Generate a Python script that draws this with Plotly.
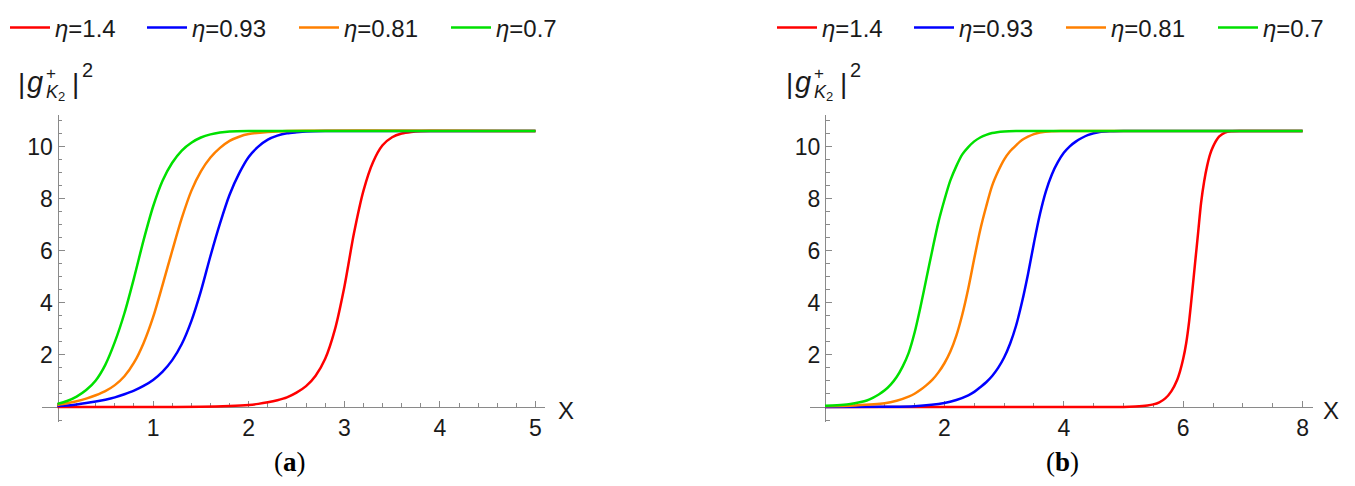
import plotly.graph_objects as go

W, H = 1355, 486

etas = ["1.4", "0.93", "0.81", "0.7"]
colors = ["#FF0000", "#0000FF", "#FF8000", "#00E000"]

# ---- panel (a): values ----
a_red_x = [0, 0.5, 1.0, 1.5, 1.8, 2.0, 2.1, 2.2, 2.3, 2.4, 2.5, 2.6, 2.7, 2.8, 2.9, 3.0, 3.1, 3.2, 3.3, 3.4, 3.5, 3.6, 3.7, 3.8, 3.9, 4.2, 5.0]
a_red_y = [0.0, 0.0, 0.0, 0.01, 0.04, 0.08, 0.12, 0.18, 0.26, 0.37, 0.55, 0.80, 1.20, 1.85, 2.95, 4.6, 6.65, 8.3, 9.4, 10.05, 10.36, 10.5, 10.56, 10.59, 10.6, 10.6, 10.6]
a_blue_x = [0, 0.1, 0.2, 0.3, 0.4, 0.5, 0.6, 0.7, 0.8, 0.9, 1.0, 1.1, 1.2, 1.3, 1.4, 1.5, 1.6, 1.7, 1.8, 1.9, 2.0, 2.1, 2.2, 2.3, 2.4, 2.5, 2.6, 2.8, 3.2, 5.0]
a_blue_y = [0.04, 0.06, 0.1, 0.15, 0.21, 0.28, 0.37, 0.49, 0.63, 0.81, 1.04, 1.36, 1.8, 2.42, 3.3, 4.45, 5.8, 7.05, 8.15, 8.97, 9.6, 10.0, 10.27, 10.42, 10.51, 10.55, 10.58, 10.6, 10.6, 10.6]
a_orange_x = [0, 0.1, 0.2, 0.3, 0.4, 0.5, 0.6, 0.7, 0.8, 0.9, 1.0, 1.1, 1.2, 1.3, 1.4, 1.5, 1.6, 1.7, 1.8, 1.9, 2.0, 2.2, 2.4, 5.0]
a_orange_y = [0.08, 0.14, 0.22, 0.32, 0.45, 0.61, 0.84, 1.18, 1.7, 2.45, 3.45, 4.7, 6.0, 7.25, 8.3, 9.05, 9.58, 9.95, 10.22, 10.38, 10.48, 10.56, 10.6, 10.6]
a_green_x = [0, 0.1, 0.2, 0.3, 0.4, 0.5, 0.6, 0.7, 0.8, 0.9, 1.0, 1.1, 1.2, 1.3, 1.4, 1.5, 1.6, 1.7, 1.8, 2.0, 5.0]
a_green_y = [0.12, 0.23, 0.4, 0.65, 1.02, 1.62, 2.5, 3.6, 4.95, 6.4, 7.7, 8.7, 9.38, 9.85, 10.15, 10.35, 10.47, 10.54, 10.58, 10.6, 10.6]

# ---- panel (b): values ----
b_red_x = [0, 2.0, 4.0, 5.0, 5.2, 5.4, 5.5, 5.6, 5.7, 5.8, 5.9, 5.95, 6.0, 6.05, 6.1, 6.15, 6.2, 6.25, 6.3, 6.35, 6.4, 6.45, 6.5, 6.6, 6.7, 6.8, 7.0, 8.0]
b_red_y = [0.0, 0.0, 0.0, 0.0, 0.02, 0.06, 0.1, 0.18, 0.33, 0.6, 1.05, 1.4, 1.85, 2.45, 3.3, 4.4, 5.55, 6.7, 7.85, 8.65, 9.25, 9.7, 10.0, 10.38, 10.54, 10.59, 10.6, 10.6]
b_blue_x = [0, 1.0, 1.5, 2.0, 2.2, 2.4, 2.5, 2.6, 2.7, 2.8, 2.9, 3.0, 3.1, 3.2, 3.3, 3.4, 3.5, 3.6, 3.7, 3.8, 3.9, 4.0, 4.1, 4.2, 4.3, 4.4, 4.6, 4.8, 5.0, 8.0]
b_blue_y = [0.0, 0.01, 0.03, 0.15, 0.27, 0.45, 0.58, 0.76, 0.95, 1.19, 1.5, 1.9, 2.43, 3.12, 4.03, 5.1, 6.3, 7.4, 8.28, 8.93, 9.4, 9.76, 10.01, 10.19, 10.33, 10.44, 10.56, 10.59, 10.6, 10.6]
b_orange_x = [0, 0.5, 1.0, 1.2, 1.4, 1.5, 1.6, 1.7, 1.8, 1.9, 2.0, 2.1, 2.2, 2.3, 2.4, 2.5, 2.6, 2.7, 2.8, 2.9, 3.0, 3.1, 3.2, 3.3, 3.4, 3.5, 3.6, 3.8, 4.0, 8.0]
b_orange_y = [0.03, 0.06, 0.14, 0.24, 0.4, 0.51, 0.66, 0.84, 1.05, 1.33, 1.68, 2.13, 2.74, 3.55, 4.55, 5.7, 6.8, 7.7, 8.5, 9.05, 9.5, 9.82, 10.05, 10.25, 10.38, 10.48, 10.54, 10.59, 10.6, 10.6]
b_green_x = [0, 0.2, 0.4, 0.6, 0.7, 0.8, 0.9, 1.0, 1.1, 1.2, 1.3, 1.4, 1.5, 1.6, 1.7, 1.8, 1.9, 2.0, 2.1, 2.2, 2.3, 2.4, 2.5, 2.6, 2.7, 2.8, 3.0, 3.2, 8.0]
b_green_y = [0.05, 0.07, 0.11, 0.19, 0.25, 0.35, 0.48, 0.64, 0.86, 1.15, 1.55, 2.07, 2.85, 3.85, 4.95, 6.05, 7.1, 7.95, 8.7, 9.25, 9.7, 9.98, 10.2, 10.35, 10.45, 10.52, 10.58, 10.6, 10.6]

a_xticks = [1, 2, 3, 4, 5]
b_xticks = [2, 4, 6, 8]
yticks = [2, 4, 6, 8, 10]

# legend entry widths (px) so the legend items sit where they do in the reference
legend_widths = [82, 97, 97, 60]

panel_a = [(a_red_x, a_red_y), (a_blue_x, a_blue_y), (a_orange_x, a_orange_y), (a_green_x, a_green_y)]
panel_b = [(b_red_x, b_red_y), (b_blue_x, b_blue_y), (b_orange_x, b_orange_y), (b_green_x, b_green_y)]

FONT = "Liberation Sans, Arial, sans-serif"
TXT = "#1a1a1a"
AX = "#8a8a8a"
fig = go.Figure()

for i, (xs, ys) in enumerate(panel_a):
    fig.add_trace(go.Scatter(x=xs, y=ys, mode="lines", line=dict(color=colors[i], width=2.5, shape="spline", smoothing=0.8),
                             name="<i>η</i>=" + etas[i], xaxis="x", yaxis="y", legend="legend",
                             legendwidth=legend_widths[i]))
for i, (xs, ys) in enumerate(panel_b):
    fig.add_trace(go.Scatter(x=xs, y=ys, mode="lines", line=dict(color=colors[i], width=2.5, shape="spline", smoothing=0.8),
                             name="<i>η</i>=" + etas[i], xaxis="x2", yaxis="y2", legend="legend2",
                             legendwidth=legend_widths[i]))

axis_common = dict(showgrid=False, zeroline=False, showline=True, linecolor=AX, linewidth=1.2,
                   ticks="inside", ticklen=6, tickwidth=1.1, tickcolor=AX, layer="below traces",
                   tickfont=dict(family=FONT, size=23, color=TXT), fixedrange=True, anchor="free")

def minor(d):
    return dict(tickmode="linear", tick0=0, dtick=d, ticks="inside", ticklen=3.5, tickwidth=1.0, tickcolor=AX)

# pixel geometry (Mathematica-style axes crossing at the origin)
y0_px, yunit = 407.0, 26.04
ydom = [(H - 422) / H, (H - 115.4) / H]
yrange = [-(422 - y0_px) / yunit, (y0_px - 115.4) / yunit]
ax_x0, ax_unit = 57.5, 95.6
bx_x0, bx_unit = 825.0, 59.7

fig.update_layout(
    width=W, height=H, margin=dict(l=0, r=0, t=0, b=0),
    paper_bgcolor="white", plot_bgcolor="white",
    xaxis=dict(domain=[42 / W, 545 / W], range=[-(ax_x0 - 42) / ax_unit, (545 - ax_x0) / ax_unit],
               position=(H - y0_px) / H, tickmode="array", tickvals=a_xticks, minor=minor(0.2), **axis_common),
    yaxis=dict(domain=ydom, range=yrange, position=ax_x0 / W, tickmode="array", tickvals=yticks,
               minor=minor(0.5), **axis_common),
    xaxis2=dict(domain=[809.5 / W, 1312.7 / W], range=[-(bx_x0 - 809.5) / bx_unit, (1312.7 - bx_x0) / bx_unit],
                position=(H - y0_px) / H, tickmode="array", tickvals=b_xticks, minor=minor(0.5), **axis_common),
    yaxis2=dict(domain=ydom, range=yrange, position=bx_x0 / W, tickmode="array", tickvals=yticks,
                minor=minor(0.5), **axis_common),
    legend=dict(orientation="h", x=5 / W, y=(H - 28) / H, xanchor="left", yanchor="middle",
                font=dict(family=FONT, size=24, color=TXT), bgcolor="rgba(0,0,0,0)", itemwidth=40),
    legend2=dict(orientation="h", x=772 / W, y=(H - 28) / H, xanchor="left", yanchor="middle",
                 font=dict(family=FONT, size=24, color=TXT), bgcolor="rgba(0,0,0,0)", itemwidth=40),
)

def ylabel(x0):
    anns = []
    def px(v):
        return v / W
    def py(v):
        return (H - v) / H
    anns.append(dict(text="|", x=px(x0), y=py(83), xanchor="left", yanchor="middle",
                     font=dict(family=FONT, size=28, color=TXT)))
    anns.append(dict(text="<i>g</i>", x=px(x0 + 9), y=py(82), xanchor="left", yanchor="middle",
                     font=dict(family=FONT, size=29, color=TXT)))
    anns.append(dict(text="+", x=px(x0 + 28), y=py(73), xanchor="left", yanchor="middle",
                     font=dict(family=FONT, size=17, color=TXT)))
    anns.append(dict(text="<i>K</i>", x=px(x0 + 28), y=py(92), xanchor="left", yanchor="middle",
                     font=dict(family=FONT, size=18, color=TXT)))
    anns.append(dict(text="2", x=px(x0 + 40), y=py(96), xanchor="left", yanchor="middle",
                     font=dict(family=FONT, size=13, color=TXT)))
    anns.append(dict(text="|", x=px(x0 + 54), y=py(83), xanchor="left", yanchor="middle",
                     font=dict(family=FONT, size=28, color=TXT)))
    anns.append(dict(text="2", x=px(x0 + 64), y=py(70), xanchor="left", yanchor="middle",
                     font=dict(family=FONT, size=20, color=TXT)))
    return anns

anns = ylabel(16) + ylabel(784)
anns.append(dict(text="X", x=566 / W, y=(H - 410) / H, xanchor="center", yanchor="middle",
                 font=dict(family=FONT, size=24, color=TXT)))
anns.append(dict(text="X", x=1331 / W, y=(H - 410) / H, xanchor="center", yanchor="middle",
                 font=dict(family=FONT, size=24, color=TXT)))
anns.append(dict(text="(<b>a</b>)", x=290 / W, y=(H - 462) / H, xanchor="center", yanchor="middle",
                 font=dict(family="Liberation Serif, Times New Roman, serif", size=27, color="#000000")))
anns.append(dict(text="(<b>b</b>)", x=1062 / W, y=(H - 462) / H, xanchor="center", yanchor="middle",
                 font=dict(family="Liberation Serif, Times New Roman, serif", size=27, color="#000000")))
for a in anns:
    a.update(xref="paper", yref="paper", showarrow=False)
fig.update_layout(annotations=anns)

fig.write_html("out.html")
